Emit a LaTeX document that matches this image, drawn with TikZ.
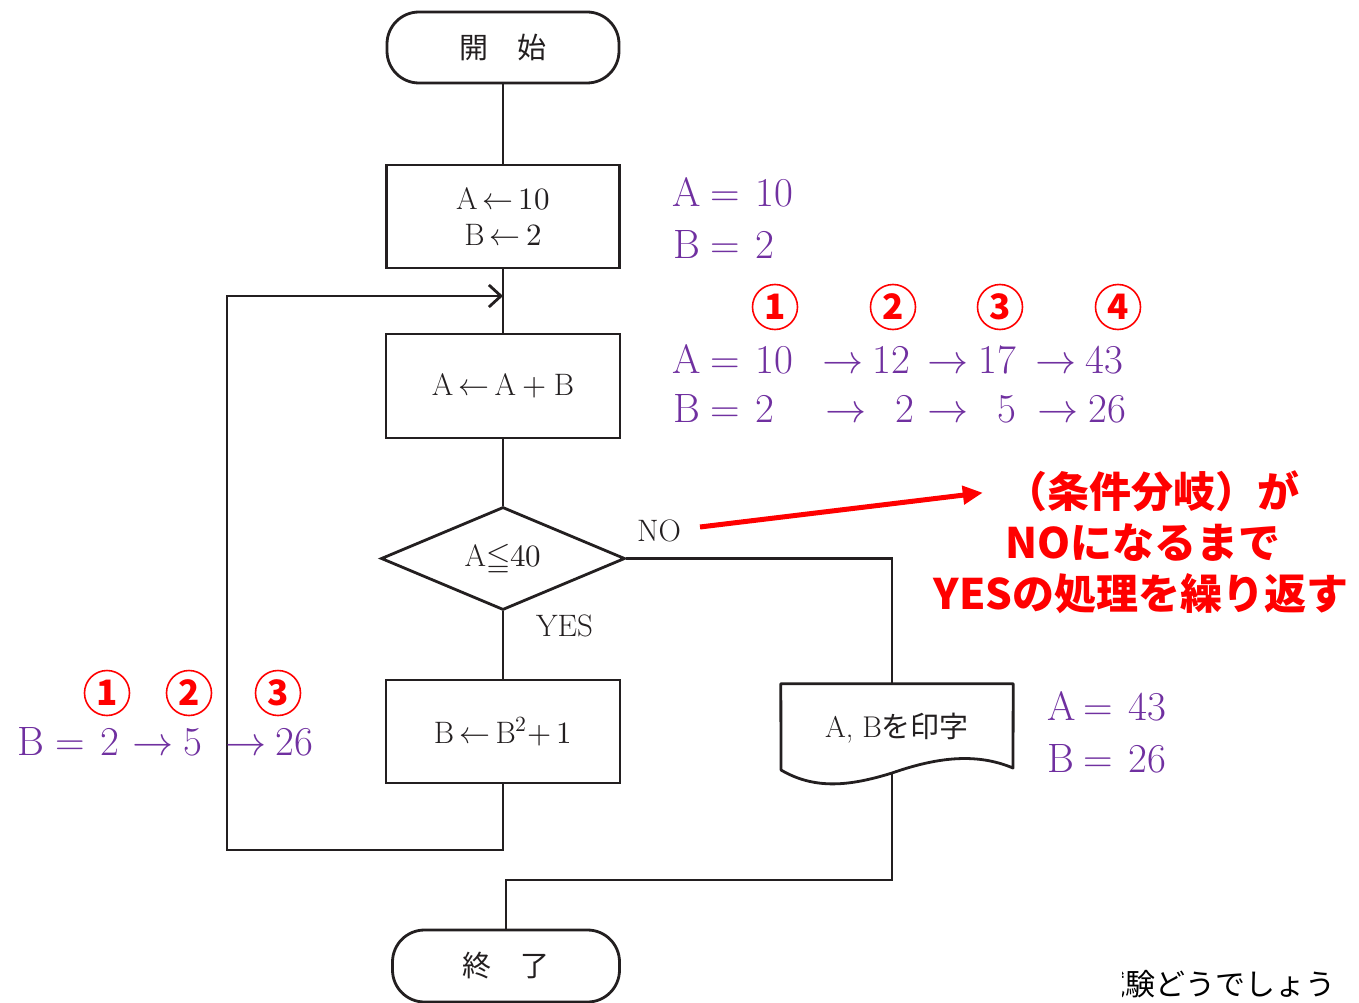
\documentclass[tikz,border=0pt]{standalone}
\usepackage{fontspec}
\usepackage{unicode-math}
\setmathfont{Latin Modern Math}
\newfontfamily\cjk{Noto Sans CJK JP}
\usetikzlibrary{shapes.geometric,arrows.meta}
\definecolor{purp}{RGB}{112,48,160}
\definecolor{ink}{RGB}{35,31,32}
\begin{document}
\begin{tikzpicture}[x=1pt,y=-1pt,
  flow/.style={draw=ink, line width=2.8pt},
  procbox/.style={rectangle, draw=ink, line width=2.8pt, minimum width=233pt, minimum height=103pt, inner sep=0pt, font=\fontsize{31}{38}\selectfont, align=center, text=ink},
  term/.style={rectangle, rounded corners=32pt, draw=ink, line width=2.8pt, minimum width=232pt, minimum height=71pt, inner sep=0pt, font=\cjk\fontsize{29}{34}\selectfont, text=ink},
  val/.style={text=purp, anchor=base west, inner sep=0pt, font=\fontsize{41}{48}\selectfont},
  circ/.style={circle, draw=red, line width=1.6pt, minimum size=45pt, inner sep=0pt, text=red, font=\cjk\bfseries\fontsize{35}{35}\selectfont},
  lab/.style={anchor=base west, inner sep=0pt, font=\fontsize{31}{36}\selectfont, text=ink},
  note/.style={text=red, font=\cjk\bfseries\fontsize{42}{50}\selectfont, inner sep=0pt, anchor=base}
]
\useasboundingbox (0,0) rectangle (1359,1003);
\fill[white] (0,0) rectangle (1359,1003);

% ---------- flowchart nodes ----------
\node[term] (start) at (503,47.5) {開　始};
\node[procbox] (box1) at (503,216.5) {$\mathrm{A}\mkern-2mu\leftarrow\mkern-2mu10$\\[-2pt]$\mathrm{B}\mkern-2mu\leftarrow\mkern-2mu2$};
\node[procbox, minimum width=234pt, minimum height=104pt] (box2) at (503,386) {$\mathrm{A}\mkern-2mu\leftarrow\mkern-2mu\mathrm{A}+\mathrm{B}$};
\node[diamond, draw=ink, line width=2.8pt, aspect=2.4, minimum width=244pt, minimum height=103pt, inner sep=0pt, font=\fontsize{31}{36}\selectfont, text=ink] (dec) at (503,558.5) {$\mathrm{A}{\leqq}40$};
\node[procbox, minimum width=234pt] (box3) at (503,731.5) {$\mathrm{B}\mkern-2mu\leftarrow\mkern-2mu\mathrm{B}^{2}{+}\,1$};
\node[rectangle, minimum width=232pt, minimum height=88pt, inner sep=0pt, font=\fontsize{30}{36}\selectfont, text=ink] (doc) at (897,728) {A, B{\cjk\fontsize{29}{34}\selectfont を印字}};
\draw[flow, line join=round] (doc.north east) -- (doc.north west) -- (781,770)
  .. controls (815,790) and (850,786) .. (892,773)
  .. controls (935,758) and (975,752) .. (1013,768) -- cycle;
\node[term, minimum width=227pt, minimum height=72pt] (end) at (506,966) {終　了};

% ---------- connectors ----------
\coordinate (loopA) at (227,850);
\coordinate (loopB) at (227,296);
\coordinate (loopin) at (503,296);
\coordinate (docb) at (892,773);
\coordinate (docin) at (892,684);
\coordinate (endjoin) at (506,880);

\draw[flow] (start.south) -- (box1.north);
\draw[flow] (box1.south) -- (box2.north);
\draw[flow] (box2.south) -- (dec.north);
\draw[flow] (dec.south) -- (box3.north);
\draw[flow, line join=miter, -{Straight Barb[length=12pt,width=22pt,line width=2.8pt]}] (box3.south) |- (loopA) -- (loopB) -- (loopin);
\draw[flow] (dec.east) -| (docin);
\draw[flow] (docb) |- (endjoin) -- (end.north);

\node[lab] (nolab) at (637,541) {NO};
\node[lab] (yeslab) at (536,636) {YES};

% ---------- red note ----------
\node[note] (note1) at (1152,507) {（条件分岐）が};
\node[note] (note2) at (1143,558) {NOになるまで};
\node[note] (note3) at (1141,609) {YESの処理を繰り返す};
\coordinate (arrstart) at (700,527);
\draw[red, line width=5pt, -{Triangle[length=20pt,width=18pt]}] (arrstart) -- ([xshift=-22pt,yshift=-2pt]note1.west);

% ---------- purple values ----------
\node[val] (a0) at (672,207) {A};
\node[val] (a0e) at (710,207) {=};
\node[val] (a0v) at (755,207) {10};
\node[val] (b0) at (673,258) {B};
\node[val] (b0e) at (710,258) {=};
\node[val] (b0v) at (755,258) {2};

\node[circ] (c1) at (775,307) {1};
\node[circ] (c2) at (893,307) {2};
\node[circ] (c3) at (1000,307) {3};
\node[circ] (c4) at (1118,307) {4};

\node[val] (a1) at (672,373) {A};
\node[val] (a1e) at (710,373) {=};
\node[val] (a1v) at (755,373) {10};
\node[val] (a1r1) at (822,373) {$\rightarrow$};
\node[val] (a1v2) at (872,373) {12};
\node[val] (a1r2) at (927,373) {$\rightarrow$};
\node[val] (a1v3) at (978,373) {17};
\node[val] (a1r3) at (1035,373) {$\rightarrow$};
\node[val] (a1v4) at (1085,373) {43};

\node[val] (b1) at (673,422) {B};
\node[val] (b1e) at (710,422) {=};
\node[val] (b1v) at (755,422) {2};
\node[val] (b1r1) at (825,422) {$\rightarrow$};
\node[val] (b1v2) at (895,422) {2};
\node[val] (b1r2) at (927,422) {$\rightarrow$};
\node[val] (b1v3) at (997,422) {5};
\node[val] (b1r3) at (1037,422) {$\rightarrow$};
\node[val] (b1v4) at (1088,422) {26};

% left annotation
\node[circ] (l1) at (107,693) {1};
\node[circ] (l2) at (189,693) {2};
\node[circ] (l3) at (278,693) {3};
\node[val] (lb) at (17,755) {B};
\node[val] (lbe) at (55,755) {=};
\node[val] (lbv) at (100,755) {2};
\node[val] (lbr1) at (132,755) {$\rightarrow$};
\node[val] (lbv2) at (183,755) {5};
\node[val] (lbr2) at (225,755) {$\rightarrow$};
\node[val] (lbv3) at (275,755) {26};

% bottom right values
\node[val] (fa) at (1047,720) {A};
\node[val] (fae) at (1083,720) {=};
\node[val] (fav) at (1128,720) {43};
\node[val] (fb) at (1047,772) {B};
\node[val] (fbe) at (1083,772) {=};
\node[val] (fbv) at (1128,772) {26};

% watermark
\begin{scope}
\clip (1122,940) rectangle (1359,1003);
\node[anchor=base east, inner sep=0pt, font=\cjk\fontsize{30}{34}\selectfont] (wm) at (1336,995) {試験どうでしょう};
\end{scope}
\end{tikzpicture}
\end{document}
